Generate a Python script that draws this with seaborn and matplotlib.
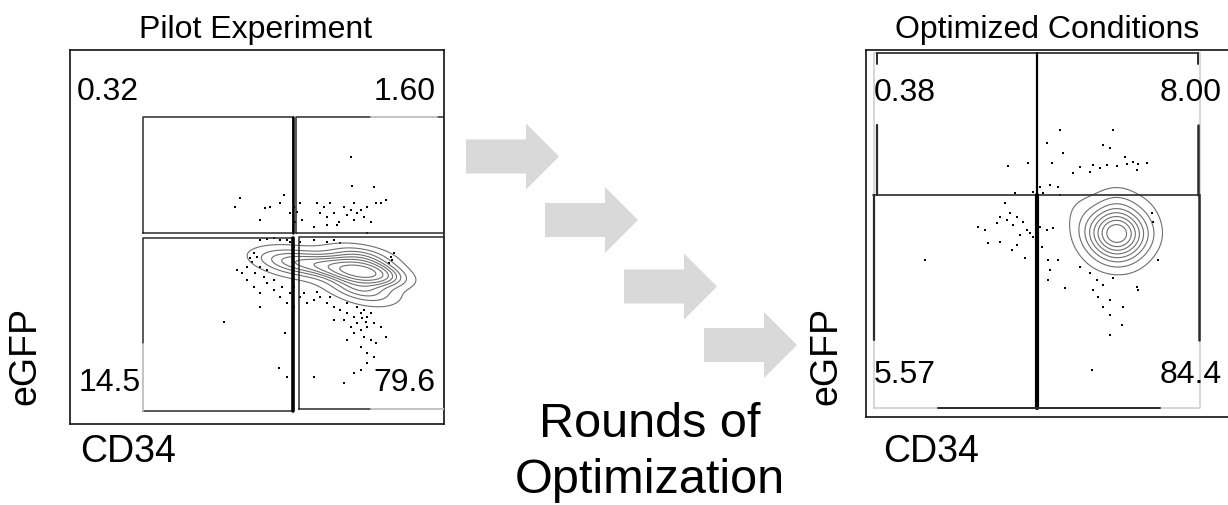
import matplotlib
matplotlib.use("Agg")
import matplotlib.pyplot as plt
import seaborn as sns
import numpy as np
from matplotlib.patches import FancyArrow

sns.set_style("white")
plt.rcParams["font.family"] = ["Liberation Sans", "DejaVu Sans"]
plt.rcParams["text.color"] = "black"

# ---- data (channel units) ----
panel_titles = ["Pilot Experiment", "Optimized Conditions"]
axis_x_label = "CD34"
axis_y_label = "eGFP"
pilot_pct = ["0.32", "1.60", "14.5", "79.6"]   # UL, UR, LL, LR
opt_pct = ["0.38", "8.00", "5.57", "84.4"]

# core population (weighted anchors for the contour density)
pilot_core_x = [885, 885, 885, 910, 845, 850, 850, 790, 740, 690, 640, 610, 700, 700, 640, 640, 890]
pilot_core_y = [455, 400, 505, 455, 455, 410, 500, 470, 478, 483, 488, 490, 515, 455, 460, 515, 370]
pilot_core_w = [12, 4, 4, 4, 5, 3, 3, 4, 3, 2.5, 2.5, 1.5, 1, 1, 1, 1, 1.5]

opt_core_x = [752, 752, 752, 690, 815, 752, 650, 830, 700, 800]
opt_core_y = [551, 605, 495, 551, 551, 650, 620, 620, 490, 490]
opt_core_w = [14, 3, 3, 4, 4, 1.2, 1.2, 1, 1, 1]

# outlier events
pilot_dots_x = [840, 845, 910, 510, 495, 570, 585, 600, 630, 640, 660, 680, 690, 695, 740, 750, 760, 770,
                780, 790, 805, 820, 830, 840, 850, 860, 870, 880, 890, 900, 915, 930, 945, 890, 670, 675,
                730, 770, 800, 850,
                570, 590, 610, 630, 650, 660, 550, 545, 530, 515, 500, 530, 550, 570, 590, 610, 630, 650,
                660, 670, 690, 710, 730, 750, 770, 790, 810, 830, 850, 870, 880, 890, 900, 860, 870, 890,
                910, 880, 900, 915, 870, 890, 850, 830, 820, 840, 910, 890, 870, 850, 820, 730, 645, 625,
                650, 460, 570, 790, 930, 945, 960, 965, 970, 955, 670, 690, 730, 770, 790, 810,
                560, 570, 555, 580, 590, 540, 610, 635, 670, 700, 740, 780, 830, 860, 875, 885]
pilot_dots_y = [802, 715, 712, 677, 652, 612, 647, 652, 662, 687, 632, 637, 662, 612, 662, 632, 652, 622,
                662, 632, 607, 652, 627, 642, 662, 632, 642, 622, 652, 607, 662, 662, 672, 572, 652, 607,
                592, 597, 597, 612,
                552, 554, 557, 552, 552, 547, 512, 487, 472, 452, 462, 432, 412, 392, 422, 402, 382, 362,
                392, 352, 382, 362, 372, 382, 362, 352, 342, 332, 322, 332, 342, 322, 332, 302, 282, 292,
                302, 262, 252, 242, 232, 212, 272, 252, 312, 292, 202, 182, 162, 152, 122, 142, 272, 167,
                142, 307, 352, 312, 292, 262, 502, 492, 512, 482, 532, 547, 552, 547, 552, 542,
                502, 472, 452, 442, 462, 497, 432, 412, 412, 392, 397, 382, 362, 352, 317, 307]

opt_dots_x = [582, 742, 542, 592, 712, 732, 777, 427, 487, 557, 642, 682, 702, 722, 752, 782, 802, 817,
              842, 812, 672, 622, 522, 552, 577, 532, 582, 447, 417, 432, 452, 472, 442, 482, 462, 492,
              402, 392, 422, 337, 357, 367, 402, 437, 452, 477, 502, 522, 542, 562, 527, 547, 552, 547,
              597, 577, 642, 672, 692, 712, 742, 682, 697, 732, 712, 812, 817, 772, 732, 767, 732, 677,
              177, 862, 877, 857, 512, 502]
opt_dots_y = [861, 861, 821, 791, 816, 806, 781, 753, 763, 761, 751, 756, 746, 756, 753, 759, 766, 759,
              761, 741, 736, 731, 691, 696, 691, 671, 666, 671, 641, 611, 601, 586, 576, 561, 546, 551,
              601, 581, 591, 571, 561, 521, 526, 501, 516, 476, 541, 571, 561, 566, 511, 471, 441, 411,
              386, 471, 451, 431, 411, 396, 416, 381, 361, 351, 331, 391, 381, 331, 306, 276, 246, 141,
              471, 586, 471, 611, 691, 676]

# gate rectangles (x0, x1, y0, y1)
pilot_gates = [(218, 667, 574, 922), (678, 1120, 574, 922), (218, 667, 40, 557), (687, 1120, 44, 562)]
pilot_label_pos = [(20, 997, "left"), (1095, 997, "right"), (25, 122, "left"), (1095, 122, "right")]
opt_label_pos = [(22, 971, "left"), (1067, 971, "right"), (22, 126, "left"), (1067, 126, "right")]

GATE = "#2b2b2b"
LIGHT = "#d0d0d0"
CONT = "#6e6e6e"

fig = plt.figure(figsize=(12.28, 5.05), dpi=100)
W, H = 1228, 505

# overlay for arrows / free text in pixel coords
over = fig.add_axes([0, 0, 1, 1], zorder=0)
over.set_xlim(0, W)
over.set_ylim(H, 0)
over.axis("off")

ax1 = fig.add_axes([70 / W, (H - 424) / H, 374 / W, 374 / H], zorder=1)
ax2 = fig.add_axes([866 / W, (H - 417) / H, 374 / W, 367 / H], zorder=1)


def draw_panel(ax, cx, cy, cw, dx, dy, bw, lims):
    sns.kdeplot(x=cx, y=cy, weights=cw, levels=9, thresh=0.08, bw_method=bw,
                color=CONT, linewidths=0.8, ax=ax)
    sns.scatterplot(x=dx, y=dy, s=3, color="black", linewidth=0, marker="s", ax=ax)
    ax.set_xlim(0, lims[0])
    ax.set_ylim(0, lims[1])
    ax.set_xticks([])
    ax.set_yticks([])
    ax.set_xlabel("")
    ax.set_ylabel("")
    for s in ax.spines.values():
        s.set_color("#111111")
        s.set_linewidth(1.2)
    ax.patch.set_alpha(0)


draw_panel(ax1, pilot_core_x, pilot_core_y, pilot_core_w, pilot_dots_x, pilot_dots_y, 0.72, (1120, 1122))
draw_panel(ax2, opt_core_x, opt_core_y, opt_core_w, opt_dots_x, opt_dots_y, 1.0, (1122, 1101))

# pilot gates
for i, (x0, x1, y0, y1) in enumerate(pilot_gates):
    ax1.plot([x0, x1, x1, x0, x0], [y0, y0, y1, y1, y0], color=GATE, lw=1.1, zorder=3)
ax1.plot([667, 667], [40, 557], color="black", lw=2.6, zorder=3)
ax1.plot([667, 667], [574, 922], color="black", lw=1.8, zorder=3)
ax1.plot([900, 1100], [922, 922], color=LIGHT, lw=1.3, zorder=4)
ax1.plot([218, 218], [40, 240], color=LIGHT, lw=1.3, zorder=4)
ax1.plot([900, 1120], [44, 44], color=LIGHT, lw=1.3, zorder=4)

# optimized gates
ax2.plot([24, 1002, 1002, 24, 24], [26, 26, 1091, 1091, 26], color=LIGHT, lw=1.2, zorder=3)
ax2.plot([32, 997], [1091, 1091], color=GATE, lw=1.2, zorder=4)
ax2.plot([22, 1002], [666, 666], color=GATE, lw=1.2, zorder=4)
ax2.plot([512, 512], [666, 1091], color="black", lw=1.6, zorder=4)
ax2.plot([512, 512], [26, 666], color="black", lw=3.0, zorder=4)
ax2.plot([32, 32], [666, 876], color=GATE, lw=1.6, zorder=4)
ax2.plot([24, 24], [231, 666], color=GATE, lw=1.6, zorder=4)
ax2.plot([997, 997], [666, 876], color=GATE, lw=1.8, zorder=4)
ax2.plot([1000, 1000], [231, 666], color=GATE, lw=1.8, zorder=4)
ax2.plot([216, 882], [26, 26], color=GATE, lw=1.4, zorder=4)
ax2.plot([32, 32], [1060, 1091], color=GATE, lw=1.4, zorder=4)
ax2.plot([997, 997], [1060, 1091], color=GATE, lw=1.4, zorder=4)

for (x, y, ha), t in zip(pilot_label_pos, pilot_pct):
    ax1.text(x, y, t, ha=ha, va="center", fontsize=23, zorder=5)
for (x, y, ha), t in zip(opt_label_pos, opt_pct):
    ax2.text(x, y, t, ha=ha, va="center", fontsize=23, zorder=5)

# arrows
for x0, yc in [(466, 156.5), (545, 220), (624, 286.5), (704, 345)]:
    over.add_patch(FancyArrow(x0, yc, 93, 0, width=34, head_width=66, head_length=33,
                              length_includes_head=True, color="#d9d9d9", lw=0))

# texts
over.text(256, 38, panel_titles[0], ha="center", va="baseline", fontsize=23)
over.text(1047, 38, panel_titles[1], ha="center", va="baseline", fontsize=23)
over.text(43, 356, axis_y_label, rotation=90, ha="right", va="center", fontsize=27)
over.text(844, 356, axis_y_label, rotation=90, ha="right", va="center", fontsize=27)
over.text(80, 462, axis_x_label, ha="left", va="baseline", fontsize=27)
over.text(883, 462, axis_x_label, ha="left", va="baseline", fontsize=27)
over.text(650, 437, "Rounds of", ha="center", va="baseline", fontsize=35)
over.text(650, 493, "Optimization", ha="center", va="baseline", fontsize=35)

fig.savefig("out.png", dpi=100)
